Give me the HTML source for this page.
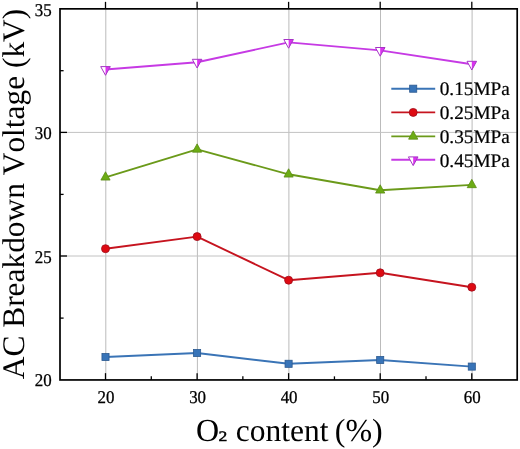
<!DOCTYPE html><html><head><meta charset="utf-8"><title>chart</title><style>
html,body{margin:0;padding:0;background:#fff;}body{width:520px;height:449px;overflow:hidden;}svg{display:block;opacity:0.999;will-change:transform;}text{font-family:"Liberation Serif",serif;fill:#000;font-kerning:none;text-rendering:geometricPrecision;}
</style></head><body>
<svg width="520" height="449" viewBox="0 0 520 449">
<rect x="0" y="0" width="520" height="449" fill="#ffffff"/>
<g stroke="#c2c2c2" stroke-width="1.0" fill="none">
<line x1="105.8" y1="8.85" x2="105.8" y2="379.95" stroke="#bbbbbb"/>
<line x1="197.4" y1="8.85" x2="197.4" y2="379.95" stroke="#bbbbbb"/>
<line x1="288.90000000000003" y1="8.85" x2="288.90000000000003" y2="379.95" stroke="#bbbbbb"/>
<line x1="380.5" y1="8.85" x2="380.5" y2="379.95" stroke="#bbbbbb"/>
<line x1="472.1" y1="8.85" x2="472.1" y2="379.95" stroke="#bbbbbb"/>
<line x1="60.0" y1="132.4" x2="517.2" y2="132.4"/>
<line x1="60.0" y1="256.0" x2="517.2" y2="256.0"/>
</g>
<polyline points="105.50,357.00 197.10,353.00 288.60,363.80 380.20,360.00 471.80,366.60" fill="none" stroke="#3a74b6" stroke-width="1.9" stroke-linejoin="round"/>
<rect x="101.95" y="353.45" width="7.1" height="7.1" fill="#3874b8" stroke="#2c5a90" stroke-width="0.8"/>
<rect x="193.55" y="349.45" width="7.1" height="7.1" fill="#3874b8" stroke="#2c5a90" stroke-width="0.8"/>
<rect x="285.05" y="360.25" width="7.1" height="7.1" fill="#3874b8" stroke="#2c5a90" stroke-width="0.8"/>
<rect x="376.65" y="356.45" width="7.1" height="7.1" fill="#3874b8" stroke="#2c5a90" stroke-width="0.8"/>
<rect x="468.25" y="363.05" width="7.1" height="7.1" fill="#3874b8" stroke="#2c5a90" stroke-width="0.8"/>
<polyline points="105.50,248.70 197.10,236.60 288.60,280.20 380.20,272.80 471.80,287.20" fill="none" stroke="#c6141f" stroke-width="1.9" stroke-linejoin="round"/>
<circle cx="105.50" cy="248.70" r="4.0" fill="#de0a12" stroke="#a00c1c" stroke-width="0.8"/>
<circle cx="197.10" cy="236.60" r="4.0" fill="#de0a12" stroke="#a00c1c" stroke-width="0.8"/>
<circle cx="288.60" cy="280.20" r="4.0" fill="#de0a12" stroke="#a00c1c" stroke-width="0.8"/>
<circle cx="380.20" cy="272.80" r="4.0" fill="#de0a12" stroke="#a00c1c" stroke-width="0.8"/>
<circle cx="471.80" cy="287.20" r="4.0" fill="#de0a12" stroke="#a00c1c" stroke-width="0.8"/>
<polyline points="105.50,177.30 197.10,149.40 288.60,174.30 380.20,190.30 471.80,184.90" fill="none" stroke="#6b9a1a" stroke-width="1.9" stroke-linejoin="round"/>
<path d="M105.50 171.77 L110.10 180.07 L100.90 180.07 Z" fill="#6cac14" stroke="#5c8c14" stroke-width="0.8" stroke-linejoin="miter"/>
<path d="M197.10 143.87 L201.70 152.17 L192.50 152.17 Z" fill="#6cac14" stroke="#5c8c14" stroke-width="0.8" stroke-linejoin="miter"/>
<path d="M288.60 168.77 L293.20 177.07 L284.00 177.07 Z" fill="#6cac14" stroke="#5c8c14" stroke-width="0.8" stroke-linejoin="miter"/>
<path d="M380.20 184.77 L384.80 193.07 L375.60 193.07 Z" fill="#6cac14" stroke="#5c8c14" stroke-width="0.8" stroke-linejoin="miter"/>
<path d="M471.80 179.37 L476.40 187.67 L467.20 187.67 Z" fill="#6cac14" stroke="#5c8c14" stroke-width="0.8" stroke-linejoin="miter"/>
<polyline points="105.50,69.50 197.10,62.20 288.60,42.40 380.20,50.40 471.80,64.20" fill="none" stroke="#c63ae4" stroke-width="1.9" stroke-linejoin="round"/>
<path d="M100.70 66.60 L110.30 66.60 L105.50 75.30 Z" fill="#ffffff" stroke="none"/><path d="M105.50 66.60 L110.30 66.60 L105.50 75.30 Z" fill="#dc32f0" stroke="none"/><path d="M100.70 66.60 L110.30 66.60 L105.50 75.30 Z" fill="none" stroke="#a634c6" stroke-width="1.0" stroke-linejoin="miter"/>
<path d="M192.30 59.30 L201.90 59.30 L197.10 68.00 Z" fill="#ffffff" stroke="none"/><path d="M197.10 59.30 L201.90 59.30 L197.10 68.00 Z" fill="#dc32f0" stroke="none"/><path d="M192.30 59.30 L201.90 59.30 L197.10 68.00 Z" fill="none" stroke="#a634c6" stroke-width="1.0" stroke-linejoin="miter"/>
<path d="M283.80 39.50 L293.40 39.50 L288.60 48.20 Z" fill="#ffffff" stroke="none"/><path d="M288.60 39.50 L293.40 39.50 L288.60 48.20 Z" fill="#dc32f0" stroke="none"/><path d="M283.80 39.50 L293.40 39.50 L288.60 48.20 Z" fill="none" stroke="#a634c6" stroke-width="1.0" stroke-linejoin="miter"/>
<path d="M375.40 47.50 L385.00 47.50 L380.20 56.20 Z" fill="#ffffff" stroke="none"/><path d="M380.20 47.50 L385.00 47.50 L380.20 56.20 Z" fill="#dc32f0" stroke="none"/><path d="M375.40 47.50 L385.00 47.50 L380.20 56.20 Z" fill="none" stroke="#a634c6" stroke-width="1.0" stroke-linejoin="miter"/>
<path d="M467.00 61.30 L476.60 61.30 L471.80 70.00 Z" fill="#ffffff" stroke="none"/><path d="M471.80 61.30 L476.60 61.30 L471.80 70.00 Z" fill="#dc32f0" stroke="none"/><path d="M467.00 61.30 L476.60 61.30 L471.80 70.00 Z" fill="none" stroke="#a634c6" stroke-width="1.0" stroke-linejoin="miter"/>
<rect x="60.0" y="8.85" width="457.20" height="371.10" fill="none" stroke="#000" stroke-width="1.7"/>
<g stroke="#000" stroke-width="1.3" fill="none">
<line x1="105.5" y1="379.95" x2="105.5" y2="373.15"/>
<line x1="105.5" y1="8.85" x2="105.5" y2="1.8499999999999996"/>
<line x1="197.1" y1="379.95" x2="197.1" y2="373.15"/>
<line x1="197.1" y1="8.85" x2="197.1" y2="1.8499999999999996"/>
<line x1="288.6" y1="379.95" x2="288.6" y2="373.15"/>
<line x1="288.6" y1="8.85" x2="288.6" y2="1.8499999999999996"/>
<line x1="380.2" y1="379.95" x2="380.2" y2="373.15"/>
<line x1="380.2" y1="8.85" x2="380.2" y2="1.8499999999999996"/>
<line x1="471.8" y1="379.95" x2="471.8" y2="373.15"/>
<line x1="471.8" y1="8.85" x2="471.8" y2="1.8499999999999996"/>
<line x1="151.29" y1="379.95" x2="151.29" y2="376.34999999999997"/>
<line x1="242.86" y1="379.95" x2="242.86" y2="376.34999999999997"/>
<line x1="334.44" y1="379.95" x2="334.44" y2="376.34999999999997"/>
<line x1="426.01" y1="379.95" x2="426.01" y2="376.34999999999997"/>
<line x1="60.0" y1="132.4" x2="67.0" y2="132.4"/>
<line x1="60.0" y1="256.0" x2="67.0" y2="256.0"/>
<line x1="60.0" y1="70.70" x2="63.6" y2="70.70"/>
<line x1="60.0" y1="194.40" x2="63.6" y2="194.40"/>
<line x1="60.0" y1="318.10" x2="63.6" y2="318.10"/>
</g>
<g font-size="18px" text-anchor="middle" stroke="#000" stroke-width="0.3">
<text transform="translate(106.00 402.7) scale(0.94 1)">20</text>
<text transform="translate(197.60 402.7) scale(0.94 1)">30</text>
<text transform="translate(289.10 402.7) scale(0.94 1)">40</text>
<text transform="translate(380.70 402.7) scale(0.94 1)">50</text>
<text transform="translate(472.30 402.7) scale(0.94 1)">60</text>
</g>
<g font-size="18px" text-anchor="end" stroke="#000" stroke-width="0.3">
<text transform="translate(51.7 15.9) scale(0.94 1)">35</text>
<text transform="translate(51.7 139.4) scale(0.94 1)">30</text>
<text transform="translate(51.7 262.9) scale(0.94 1)">25</text>
<text transform="translate(51.7 386.2) scale(0.94 1)">20</text>
</g>
<text x="195.9" y="441" font-size="32px">O</text><text font-size="15px" stroke="#000" stroke-width="0.45" transform="translate(218.4 441.3) scale(1.17 0.96)">2</text><text x="235.8" y="441" font-size="32px" textLength="92.6" lengthAdjust="spacingAndGlyphs">content</text><text x="334.8" y="441" font-size="32px">(%)</text>
<text transform="translate(24.2 194) rotate(-90)" font-size="31.4px" text-anchor="middle">AC Breakdown Voltage (kV)</text>
<line x1="391.3" y1="88.7" x2="435.2" y2="88.7" stroke="#3a74b6" stroke-width="1.9"/>
<rect x="409.65" y="85.15" width="7.1" height="7.1" fill="#3874b8" stroke="#2c5a90" stroke-width="0.8"/>
<text x="439.7" y="95.4" font-size="19.3px" stroke="#000" stroke-width="0.2">0.15MPa</text>
<line x1="391.3" y1="112.4" x2="435.2" y2="112.4" stroke="#c6141f" stroke-width="1.9"/>
<circle cx="413.20" cy="112.40" r="4.0" fill="#de0a12" stroke="#a00c1c" stroke-width="0.8"/>
<text x="439.7" y="119.10000000000001" font-size="19.3px" stroke="#000" stroke-width="0.2">0.25MPa</text>
<line x1="391.3" y1="136.4" x2="435.2" y2="136.4" stroke="#6b9a1a" stroke-width="1.9"/>
<path d="M413.20 130.87 L417.80 139.17 L408.60 139.17 Z" fill="#6cac14" stroke="#5c8c14" stroke-width="0.8" stroke-linejoin="miter"/>
<text x="439.7" y="143.1" font-size="19.3px" stroke="#000" stroke-width="0.2">0.35MPa</text>
<line x1="391.3" y1="159.8" x2="435.2" y2="159.8" stroke="#c63ae4" stroke-width="1.9"/>
<path d="M408.40 156.90 L418.00 156.90 L413.20 165.60 Z" fill="#ffffff" stroke="none"/><path d="M413.20 156.90 L418.00 156.90 L413.20 165.60 Z" fill="#dc32f0" stroke="none"/><path d="M408.40 156.90 L418.00 156.90 L413.20 165.60 Z" fill="none" stroke="#a634c6" stroke-width="1.0" stroke-linejoin="miter"/>
<text x="439.7" y="166.5" font-size="19.3px" stroke="#000" stroke-width="0.2">0.45MPa</text>
</svg></body></html>
